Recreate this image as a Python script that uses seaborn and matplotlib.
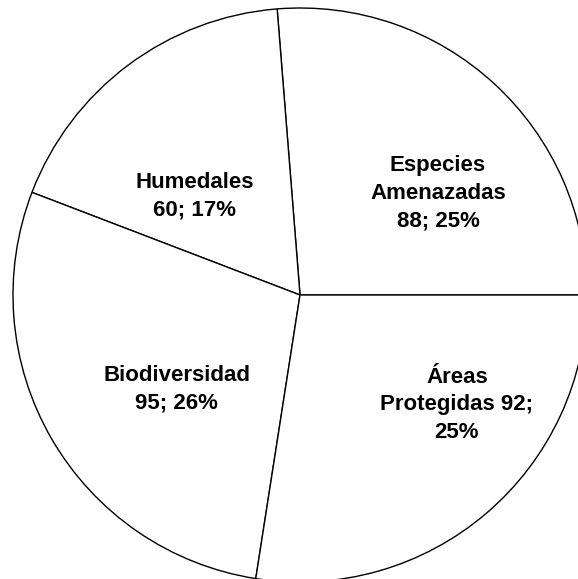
import matplotlib
matplotlib.use("Agg")
import matplotlib.pyplot as plt
import seaborn as sns

# data, counterclockwise from 3 o'clock
categories = ["Especies Amenazadas", "Humedales", "Biodiversidad", "Áreas Protegidas"]
values = [88, 60, 95, 92]
percent_labels = [25, 17, 26, 25]
label_texts = [
    "Especies\nAmenazadas\n88; 25%",
    "Humedales\n60; 17%",
    "Biodiversidad\n95; 26%",
    "Áreas\nProtegidas 92;\n25%",
]

# where each label sits, in pie radius units
label_xy = [(0.481, 0.355), (-0.366, 0.345), (-0.429, -0.328), (0.547, -0.383)]

sns.set_theme(style="white")
plt.rcParams["font.family"] = ["Liberation Sans", "DejaVu Sans"]

W, H = 578, 579
fig = plt.figure(figsize=(W / 100, H / 100), dpi=100)
cx, cy, r = 300, 295, 287
ax = fig.add_axes([(cx - r) / W, (H - cy - r) / H, 2 * r / W, 2 * r / H])

ax.pie(
    values,
    startangle=0,
    counterclock=True,
    colors=["white"] * len(values),
    wedgeprops=dict(edgecolor="black", linewidth=1.0),
    radius=1,
)
for txt, (x, y) in zip(label_texts, label_xy):
    ax.text(x, y, txt, ha="center", va="center", fontsize=16,
            fontweight="bold", linespacing=1.42, color="black")

ax.set_xlim(-1, 1)
ax.set_ylim(-1, 1)
ax.set_aspect("equal")
ax.axis("off")

fig.savefig("out.png", dpi=100)
